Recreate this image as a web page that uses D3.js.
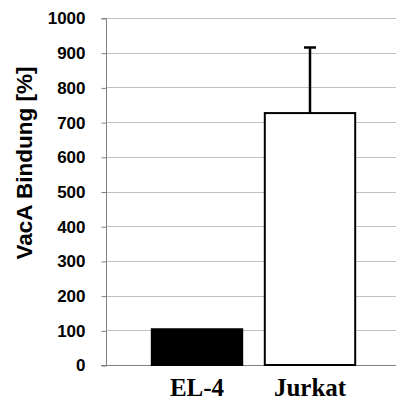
<!DOCTYPE html>
<html>
<head>
<meta charset="utf-8">
<script src="https://cdn.jsdelivr.net/npm/d3@7"></script>
<style>
  html, body { margin: 0; padding: 0; background: #fff; }
  svg { display: block; }
</style>
</head>
<body>
<div id="chart"></div>
<script>
// data
const categories = ['EL-4', 'Jurkat'];
const values = [103, 726];
const errors = [0, 189];           // upper error only
const fills = ['#000000', '#ffffff'];
const yTicks = [0, 100, 200, 300, 400, 500, 600, 700, 800, 900, 1000];

const W = 396, H = 400;
const plot = { left: 106, right: 400, top: 18, bottom: 365 };

const svg = d3.select('#chart').append('svg')
  .attr('width', W).attr('height', H);

const y = d3.scaleLinear().domain([0, 1000]).range([plot.bottom, plot.top]);
const x = d3.scaleBand().domain(categories)
  .range([140.5, 366.5]).paddingInner(0.2).paddingOuter(0.1);

// gridlines
svg.append('g').selectAll('line').data(yTicks.slice(1)).join('line')
  .attr('x1', plot.left).attr('x2', plot.right)
  .attr('y1', d => Math.round(y(d)) + 0.5).attr('y2', d => Math.round(y(d)) + 0.5)
  .attr('stroke', '#c0c0c0').attr('stroke-width', 1);

// y axis
const yAxis = svg.append('g')
  .attr('transform', `translate(${plot.left + 0.5},0.5)`)
  .call(d3.axisLeft(y).tickValues(yTicks).tickFormat(d3.format('d')).tickSize(5).tickPadding(16));
yAxis.select('.domain').attr('stroke', '#808080').attr('d', `M-5,${plot.top}H0V${plot.bottom}`);
yAxis.selectAll('.tick line').attr('stroke', '#808080');
yAxis.selectAll('text')
  .attr('font-family', 'Liberation Sans, Arial, sans-serif')
  .attr('font-weight', 'bold').attr('font-size', 17).attr('fill', '#000');

// baseline
svg.append('line')
  .attr('x1', plot.left - 5).attr('x2', plot.right)
  .attr('y1', plot.bottom + 0.5).attr('y2', plot.bottom + 0.5)
  .attr('stroke', '#808080');

// bars
svg.append('g').selectAll('rect').data(categories).join('rect')
  .attr('x', d => x(d))
  .attr('y', (d, i) => y(values[i]))
  .attr('width', x.bandwidth())
  .attr('height', (d, i) => y(0) - y(values[i]))
  .attr('fill', (d, i) => fills[i])
  .attr('stroke', '#000').attr('stroke-width', 2);

// error bars (upper only)
const eb = svg.append('g').attr('stroke', '#000').attr('stroke-width', 2.5);
categories.forEach((c, i) => {
  if (!errors[i]) return;
  const cx = x(c) + x.bandwidth() / 2;
  eb.append('line').attr('x1', cx).attr('x2', cx)
    .attr('y1', y(values[i])).attr('y2', y(values[i] + errors[i]));
  eb.append('line').attr('x1', cx - 6).attr('x2', cx + 6)
    .attr('y1', y(values[i] + errors[i])).attr('y2', y(values[i] + errors[i]));
});

// category labels
svg.append('g').selectAll('text').data(categories).join('text')
  .attr('x', d => x(d) + x.bandwidth() / 2)
  .attr('y', 396)
  .attr('text-anchor', 'middle')
  .attr('font-family', 'Liberation Serif, Times New Roman, serif')
  .attr('font-weight', 'bold').attr('font-size', 25)
  .text(d => d);

// y title
svg.append('text')
  .attr('transform', 'translate(32,163) rotate(-90)')
  .attr('text-anchor', 'middle')
  .attr('font-family', 'Liberation Sans, Arial, sans-serif')
  .attr('font-weight', 'bold').attr('font-size', 22.5)
  .text('VacA Bindung [%]');
</script>
</body>
</html>
